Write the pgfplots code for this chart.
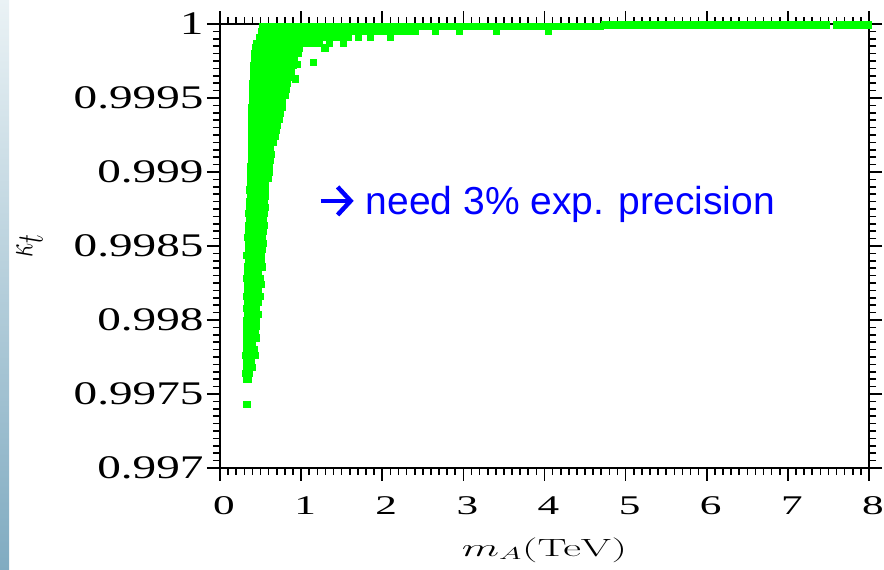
\documentclass[border=0pt]{standalone}
\usepackage{pgfplots}
\pgfplotsset{compat=1.18}
\usepackage{graphicx}
\usepackage[no-math]{fontspec}
\setmainfont{Liberation Serif}
\newfontfamily\arialf{Liberation Sans}
\definecolor{ptgreen}{RGB}{0,255,0}
\definecolor{annblue}{RGB}{0,0,255}
\definecolor{stripTop}{RGB}{234,242,245}
\definecolor{stripBot}{RGB}{128,171,193}
\newcommand\sx[1]{\scalebox{1.6}[1]{#1}}
\newcommand\sy[1]{\scalebox{1.43}[1]{#1}}
\begin{document}
\begin{tikzpicture}
\path[use as bounding box] (0pt,0pt) rectangle (884pt,570pt);
\shade[top color=stripTop, bottom color=stripBot] (0pt,0pt) rectangle (9pt,570pt);
\begin{axis}[
  at={(220pt,102pt)}, anchor=south west,
  scale only axis, width=649pt, height=444pt,
  xmin=0, xmax=8, ymin=0.997, ymax=1,
  axis on top,
  tick align=outside,
  major tick length=13pt, minor tick length=7pt,
  tick style={black, line width=1.6pt},
  axis line style={line width=2pt},
  xtick={0,1,2,3,4,5,6,7,8},
  xticklabels={\sx{0},\sx{1},\sx{2},\sx{3},\sx{4},\sx{5},\sx{6},\sx{7},\sx{8}},
  ytick={0.997,0.9975,0.998,0.9985,0.999,0.9995,1},
  yticklabels={\sy{0.997},\sy{0.9975},\sy{0.998},\sy{0.9985},\sy{0.999},\sy{0.9995},\sy{1}},
  minor x tick num=9, minor y tick num=9,
  xticklabel style={font=\fontsize{27}{27}\selectfont, yshift=-12pt, xshift=4pt},
  yticklabel style={font=\fontsize{33}{33}\selectfont},
  xlabel={\scalebox{1.75}[1]{$m_A(\mathrm{TeV})$}},
  xlabel style={at={(axis description cs:0.5,-0.1847)}, anchor=center, font=\fontsize{24}{24}\selectfont},
  ylabel={\scalebox{1}[1.5]{$\kappa_t$}},
  ylabel style={at={(axis description cs:-0.2935,0.5)}, anchor=center, font=\fontsize{34}{34}\selectfont},
]
\addplot[only marks, mark=square*, mark size=3.1pt, color=ptgreen] table {
x y
0.33 0.99743
0.32 0.99760
0.35 0.99760
0.31 0.99764
0.34 0.99764
0.36 0.99764
0.33 0.99768
0.36 0.99768
0.39 0.99768
0.32 0.99772
0.35 0.99772
0.38 0.99772
0.31 0.99776
0.34 0.99776
0.40 0.99776
0.43 0.99776
0.32 0.99780
0.35 0.99780
0.41 0.99780
0.42 0.99780
0.33 0.99784
0.36 0.99784
0.40 0.99784
0.32 0.99788
0.35 0.99788
0.41 0.99788
0.44 0.99788
0.33 0.99792
0.36 0.99792
0.42 0.99792
0.43 0.99792
0.33 0.99796
0.36 0.99796
0.42 0.99796
0.45 0.99796
0.32 0.99800
0.35 0.99800
0.41 0.99800
0.45 0.99800
0.34 0.99804
0.37 0.99804
0.43 0.99804
0.47 0.99804
0.33 0.99808
0.36 0.99808
0.42 0.99808
0.45 0.99808
0.34 0.99812
0.37 0.99812
0.43 0.99812
0.47 0.99812
0.33 0.99816
0.36 0.99816
0.42 0.99816
0.49 0.99816
0.34 0.99820
0.37 0.99820
0.43 0.99820
0.47 0.99820
0.34 0.99824
0.37 0.99824
0.43 0.99824
0.49 0.99824
0.51 0.99824
0.33 0.99828
0.36 0.99828
0.42 0.99828
0.48 0.99828
0.50 0.99828
0.34 0.99832
0.37 0.99832
0.43 0.99832
0.47 0.99832
0.34 0.99836
0.37 0.99836
0.43 0.99836
0.49 0.99836
0.52 0.99836
0.35 0.99840
0.38 0.99840
0.44 0.99840
0.51 0.99840
0.33 0.99844
0.36 0.99844
0.42 0.99844
0.48 0.99844
0.51 0.99844
0.35 0.99848
0.38 0.99848
0.44 0.99848
0.50 0.99848
0.52 0.99848
0.35 0.99852
0.38 0.99852
0.44 0.99852
0.50 0.99852
0.53 0.99852
0.34 0.99856
0.37 0.99856
0.43 0.99856
0.49 0.99856
0.52 0.99856
0.35 0.99860
0.38 0.99860
0.44 0.99860
0.50 0.99860
0.53 0.99860
0.35 0.99864
0.38 0.99864
0.44 0.99864
0.50 0.99864
0.54 0.99864
0.36 0.99868
0.39 0.99868
0.45 0.99868
0.51 0.99868
0.53 0.99868
0.35 0.99872
0.38 0.99872
0.44 0.99872
0.50 0.99872
0.54 0.99872
0.36 0.99876
0.39 0.99876
0.45 0.99876
0.51 0.99876
0.55 0.99876
0.36 0.99880
0.39 0.99880
0.45 0.99880
0.51 0.99880
0.54 0.99880
0.37 0.99884
0.40 0.99884
0.46 0.99884
0.52 0.99884
0.56 0.99884
0.36 0.99888
0.39 0.99888
0.45 0.99888
0.51 0.99888
0.55 0.99888
0.37 0.99892
0.40 0.99892
0.46 0.99892
0.52 0.99892
0.56 0.99892
0.37 0.99896
0.40 0.99896
0.46 0.99896
0.52 0.99896
0.59 0.99896
0.37 0.99900
0.40 0.99900
0.46 0.99900
0.52 0.99900
0.58 0.99900
0.60 0.99900
0.37 0.99904
0.40 0.99904
0.46 0.99904
0.52 0.99904
0.58 0.99904
0.61 0.99904
0.38 0.99908
0.41 0.99908
0.47 0.99908
0.53 0.99908
0.59 0.99908
0.62 0.99908
0.38 0.99912
0.41 0.99912
0.47 0.99912
0.53 0.99912
0.59 0.99912
0.63 0.99912
0.38 0.99916
0.41 0.99916
0.47 0.99916
0.53 0.99916
0.59 0.99916
0.62 0.99916
0.38 0.99920
0.41 0.99920
0.47 0.99920
0.53 0.99920
0.59 0.99920
0.66 0.99920
0.38 0.99924
0.41 0.99924
0.47 0.99924
0.53 0.99924
0.59 0.99924
0.65 0.99924
0.68 0.99924
0.39 0.99928
0.42 0.99928
0.48 0.99928
0.54 0.99928
0.60 0.99928
0.66 0.99928
0.69 0.99928
0.39 0.99932
0.42 0.99932
0.48 0.99932
0.54 0.99932
0.60 0.99932
0.66 0.99932
0.70 0.99932
0.39 0.99936
0.42 0.99936
0.48 0.99936
0.54 0.99936
0.60 0.99936
0.66 0.99936
0.73 0.99936
0.39 0.99940
0.42 0.99940
0.48 0.99940
0.54 0.99940
0.60 0.99940
0.66 0.99940
0.72 0.99940
0.74 0.99940
0.39 0.99944
0.42 0.99944
0.48 0.99944
0.54 0.99944
0.60 0.99944
0.66 0.99944
0.72 0.99944
0.76 0.99944
0.40 0.99948
0.43 0.99948
0.49 0.99948
0.55 0.99948
0.61 0.99948
0.67 0.99948
0.73 0.99948
0.77 0.99948
0.40 0.99952
0.43 0.99952
0.49 0.99952
0.55 0.99952
0.61 0.99952
0.67 0.99952
0.73 0.99952
0.80 0.99952
0.40 0.99956
0.43 0.99956
0.49 0.99956
0.55 0.99956
0.61 0.99956
0.67 0.99956
0.73 0.99956
0.79 0.99956
0.82 0.99956
0.40 0.99960
0.43 0.99960
0.49 0.99960
0.55 0.99960
0.61 0.99960
0.67 0.99960
0.73 0.99960
0.79 0.99960
0.83 0.99960
0.41 0.99964
0.44 0.99964
0.50 0.99964
0.56 0.99964
0.62 0.99964
0.68 0.99964
0.74 0.99964
0.80 0.99964
0.84 0.99964
0.93 0.99963
0.41 0.99968
0.44 0.99968
0.50 0.99968
0.56 0.99968
0.62 0.99968
0.68 0.99968
0.74 0.99968
0.80 0.99968
0.86 0.99968
0.88 0.99968
0.41 0.99972
0.44 0.99972
0.50 0.99972
0.56 0.99972
0.62 0.99972
0.68 0.99972
0.74 0.99972
0.80 0.99972
0.86 0.99972
0.90 0.99972
0.95 0.99973
1.15 0.99974
0.42 0.99976
0.45 0.99976
0.51 0.99976
0.57 0.99976
0.63 0.99976
0.69 0.99976
0.75 0.99976
0.81 0.99976
0.87 0.99976
0.91 0.99976
0.42 0.99980
0.45 0.99980
0.51 0.99980
0.57 0.99980
0.63 0.99980
0.69 0.99980
0.75 0.99980
0.81 0.99980
0.87 0.99980
0.93 0.99980
0.96 0.99980
0.43 0.99984
0.46 0.99984
0.52 0.99984
0.58 0.99984
0.64 0.99984
0.70 0.99984
0.76 0.99984
0.82 0.99984
0.88 0.99984
0.94 0.99984
0.98 0.99984
1.29 0.99984
0.45 0.99987
0.48 0.99987
0.54 0.99987
0.60 0.99987
0.66 0.99987
0.72 0.99987
0.78 0.99987
0.84 0.99987
0.90 0.99987
0.96 0.99987
1.02 0.99987
1.08 0.99987
1.14 0.99987
1.22 0.99987
1.35 0.99987
1.52 0.99987
0.48 0.99991
0.52 0.99991
0.59 0.99991
0.65 0.99991
0.72 0.99991
0.78 0.99991
0.85 0.99991
0.91 0.99991
0.98 0.99991
1.04 0.99991
1.11 0.99991
1.17 0.99991
1.24 0.99991
1.30 0.99991
1.37 0.99991
1.43 0.99991
1.50 0.99991
1.58 0.99991
1.70 0.99991
1.85 0.99991
2.10 0.99991
0.51 0.99995
0.55 0.99995
0.62 0.99995
0.68 0.99995
0.75 0.99995
0.81 0.99995
0.88 0.99995
0.94 0.99995
1.01 0.99995
1.07 0.99995
1.14 0.99995
1.20 0.99995
1.27 0.99995
1.33 0.99995
1.40 0.99995
1.46 0.99995
1.53 0.99995
1.59 0.99995
1.66 0.99995
1.72 0.99995
1.79 0.99995
1.85 0.99995
1.92 0.99995
1.98 0.99995
2.05 0.99995
2.11 0.99995
2.18 0.99995
2.24 0.99995
2.31 0.99995
2.40 0.99995
2.65 0.99995
2.95 0.99995
3.40 0.99995
4.05 0.99995
0.52 0.999985
0.58 0.999985
0.65 0.999985
0.71 0.999985
0.78 0.999985
0.84 0.999985
0.91 0.999985
0.97 0.999985
1.04 0.999985
1.10 0.999985
1.17 0.999985
1.23 0.999985
1.30 0.999985
1.36 0.999985
1.43 0.999985
1.49 0.999985
1.56 0.999985
1.62 0.999985
1.69 0.999985
1.75 0.999985
1.82 0.999985
1.88 0.999985
1.95 0.999985
2.01 0.999985
2.08 0.999985
2.14 0.999985
2.21 0.999985
2.27 0.999985
2.34 0.999985
2.40 0.999985
2.47 0.999985
2.53 0.999985
2.60 0.999985
2.66 0.999985
2.73 0.999985
2.79 0.999985
2.86 0.999985
2.92 0.999985
2.99 0.999985
3.05 0.999985
3.12 0.999985
3.18 0.999985
3.25 0.999985
3.31 0.999985
3.38 0.999985
3.44 0.999985
3.51 0.999985
3.57 0.999985
3.64 0.999985
3.70 0.999985
3.77 0.999985
3.83 0.999985
3.90 0.999985
3.96 0.999985
4.03 0.999985
4.09 0.999985
4.16 0.999985
4.22 0.999985
4.29 0.999985
4.35 0.999985
4.42 0.999985
4.48 0.999985
4.55 0.999985
4.61 0.999985
4.68 0.999985
4.74 0.999995
4.81 0.999995
4.87 0.999995
4.94 0.999995
5.00 0.999995
5.07 0.999995
5.13 0.999995
5.20 0.999995
5.26 0.999995
5.33 0.999995
5.39 0.999995
5.46 0.999995
5.52 0.999995
5.59 0.999995
5.65 0.999995
5.72 0.999995
5.78 0.999995
5.85 0.999995
5.91 0.999995
5.98 0.999995
6.04 0.999995
6.11 0.999995
6.17 0.999995
6.24 0.999995
6.30 0.999995
6.37 0.999995
6.43 0.999995
6.50 0.999995
6.56 0.999995
6.63 0.999995
6.69 0.999995
6.76 0.999995
6.82 0.999995
6.89 0.999995
6.95 0.999995
7.02 0.999995
7.08 0.999995
7.15 0.999995
7.21 0.999995
7.28 0.999995
7.34 0.999995
7.41 0.999995
7.47 0.999995
7.60 0.999995
7.67 0.999995
7.73 0.999995
7.80 0.999995
7.86 0.999995
7.93 0.999995
7.99 0.999995
};
\node[anchor=base west, inner sep=0pt, text=annblue, font=\arialf\fontsize{39}{39}\selectfont] at (axis cs:1.21,0.99871) {\tikz[baseline=0pt]{\draw[annblue, line width=4.5pt] (0pt,14pt) -- (29pt,14pt); \draw[annblue, line width=4.5pt, miter limit=10] (17pt,0pt) -- (30pt,14pt) -- (17pt,28pt);}\hspace{13pt}need 3\% exp. precision};
\end{axis}
\end{tikzpicture}
\end{document}
